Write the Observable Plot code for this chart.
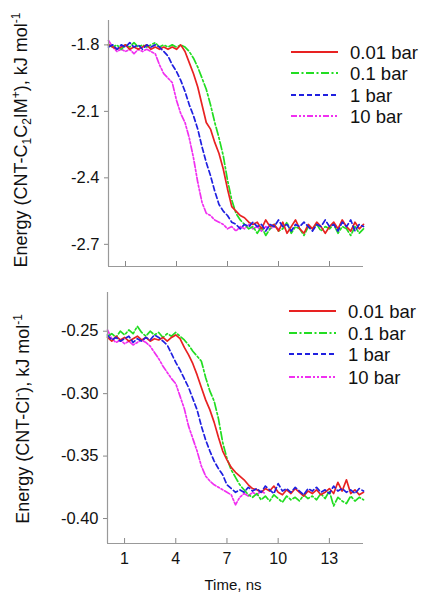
<!DOCTYPE html>
<html>
<head>
<meta charset="utf-8">
<script src="https://cdn.jsdelivr.net/npm/d3@7"></script>
<script src="https://cdn.jsdelivr.net/npm/@observablehq/plot@0.6"></script>
<style>
  html, body { margin: 0; padding: 0; background: #fff; }
  #wrap { position: relative; width: 421px; height: 593px; font-family: "Liberation Sans", Arial, sans-serif; }
  #top, #bot { position: absolute; left: 0; }
  #top { top: 0; }
  #bot { top: 290px; }
  #overlay { position: absolute; left: 0; top: 0; pointer-events: none; }
</style>
</head>
<body>
<div id="wrap">
  <div id="top"></div>
  <div id="bot"></div>
  <svg id="overlay" width="421" height="593"></svg>
</div>
<script>
// ---------- data ----------
const times = [0,0.25,0.5,0.75,1,1.25,1.5,1.75,2,2.25,2.5,2.75,3,3.25,3.5,3.75,4,4.25,4.5,4.75,5,5.25,5.5,5.75,6,6.25,6.5,6.75,7,7.25,7.5,7.75,8,8.25,8.5,8.75,9,9.25,9.5,9.75,10,10.25,10.5,10.75,11,11.25,11.5,11.75,12,12.25,12.5,12.75,13,13.25,13.5,13.75,14,14.25,14.5,14.75,15];

const seriesNames = ["0.01 bar", "0.1 bar", "1 bar", "10 bar"];

// Top panel: Energy (CNT-C1C2IM+), kJ/mol
const topRed = [-1.80,-1.81,-1.82,-1.81,-1.80,-1.82,-1.81,-1.82,-1.81,-1.80,-1.82,-1.81,-1.82,-1.81,-1.82,-1.81,-1.82,-1.80,-1.83,-1.88,-1.93,-1.99,-2.07,-2.15,-2.18,-2.24,-2.29,-2.36,-2.45,-2.53,-2.55,-2.57,-2.58,-2.60,-2.61,-2.60,-2.63,-2.59,-2.62,-2.61,-2.64,-2.60,-2.65,-2.62,-2.59,-2.63,-2.65,-2.61,-2.63,-2.60,-2.62,-2.65,-2.62,-2.60,-2.63,-2.59,-2.62,-2.64,-2.60,-2.63,-2.61];
const topGreen = [-1.80,-1.81,-1.80,-1.82,-1.80,-1.81,-1.79,-1.81,-1.80,-1.81,-1.80,-1.79,-1.81,-1.80,-1.81,-1.80,-1.81,-1.80,-1.81,-1.83,-1.86,-1.90,-1.95,-2.00,-2.07,-2.15,-2.22,-2.30,-2.41,-2.50,-2.56,-2.59,-2.61,-2.63,-2.62,-2.65,-2.62,-2.66,-2.63,-2.61,-2.64,-2.63,-2.60,-2.65,-2.62,-2.63,-2.66,-2.62,-2.63,-2.61,-2.64,-2.62,-2.63,-2.61,-2.65,-2.62,-2.63,-2.66,-2.62,-2.65,-2.63];
const topBlue = [-1.81,-1.80,-1.82,-1.80,-1.81,-1.79,-1.81,-1.80,-1.82,-1.80,-1.81,-1.80,-1.81,-1.83,-1.85,-1.89,-1.92,-1.96,-2.01,-2.07,-2.12,-2.18,-2.26,-2.33,-2.39,-2.46,-2.52,-2.55,-2.57,-2.60,-2.61,-2.63,-2.61,-2.62,-2.60,-2.62,-2.61,-2.64,-2.61,-2.62,-2.59,-2.62,-2.61,-2.64,-2.61,-2.62,-2.60,-2.62,-2.64,-2.61,-2.62,-2.59,-2.62,-2.61,-2.64,-2.60,-2.62,-2.59,-2.64,-2.61,-2.62];
const topMagenta = [-1.78,-1.81,-1.83,-1.82,-1.83,-1.82,-1.84,-1.82,-1.83,-1.82,-1.83,-1.84,-1.89,-1.93,-1.95,-1.97,-2.05,-2.11,-2.15,-2.22,-2.31,-2.42,-2.51,-2.56,-2.57,-2.59,-2.60,-2.61,-2.63,-2.62,-2.64,-2.62,-2.63,-2.61,-2.63,-2.62,-2.64,-2.62,-2.63,-2.62,-2.63];

// Bottom panel: Energy (CNT-Cl-), kJ/mol
const botRed = [-0.255,-0.258,-0.254,-0.257,-0.255,-0.258,-0.256,-0.254,-0.257,-0.255,-0.258,-0.256,-0.257,-0.255,-0.258,-0.255,-0.253,-0.256,-0.263,-0.269,-0.276,-0.285,-0.295,-0.305,-0.313,-0.323,-0.335,-0.346,-0.353,-0.359,-0.363,-0.366,-0.369,-0.373,-0.376,-0.377,-0.379,-0.376,-0.378,-0.374,-0.379,-0.381,-0.377,-0.380,-0.376,-0.379,-0.382,-0.378,-0.380,-0.377,-0.381,-0.379,-0.376,-0.380,-0.371,-0.378,-0.369,-0.380,-0.377,-0.381,-0.379];
const botGreen = [-0.254,-0.252,-0.255,-0.250,-0.253,-0.249,-0.252,-0.246,-0.251,-0.254,-0.250,-0.253,-0.251,-0.255,-0.252,-0.254,-0.251,-0.254,-0.257,-0.261,-0.266,-0.270,-0.274,-0.287,-0.298,-0.306,-0.320,-0.339,-0.352,-0.361,-0.367,-0.373,-0.377,-0.381,-0.383,-0.380,-0.385,-0.382,-0.386,-0.381,-0.384,-0.387,-0.382,-0.385,-0.383,-0.386,-0.381,-0.384,-0.382,-0.385,-0.380,-0.384,-0.378,-0.390,-0.383,-0.386,-0.388,-0.382,-0.386,-0.383,-0.385];
const botBlue = [-0.253,-0.257,-0.255,-0.258,-0.256,-0.254,-0.259,-0.256,-0.258,-0.255,-0.257,-0.253,-0.255,-0.258,-0.261,-0.268,-0.275,-0.281,-0.288,-0.295,-0.304,-0.313,-0.326,-0.337,-0.346,-0.354,-0.360,-0.365,-0.373,-0.376,-0.379,-0.377,-0.379,-0.375,-0.378,-0.376,-0.379,-0.374,-0.377,-0.380,-0.372,-0.378,-0.376,-0.379,-0.375,-0.378,-0.381,-0.376,-0.378,-0.375,-0.379,-0.377,-0.380,-0.374,-0.378,-0.376,-0.379,-0.377,-0.380,-0.376,-0.378];
const botMagenta = [-0.249,-0.256,-0.259,-0.257,-0.260,-0.258,-0.261,-0.259,-0.257,-0.259,-0.262,-0.267,-0.272,-0.278,-0.283,-0.288,-0.292,-0.302,-0.312,-0.326,-0.336,-0.346,-0.358,-0.366,-0.370,-0.373,-0.375,-0.377,-0.379,-0.381,-0.389,-0.383,-0.380,-0.382,-0.379,-0.381,-0.378,-0.380];

const xTicks = [1, 4, 7, 10, 13];
const topYTicks = [-1.8, -2.1, -2.4, -2.7];
const botYTicks = [-0.25, -0.30, -0.35, -0.40];

// ---------- styles ----------
const colors = ["#e82222", "#22dd22", "#2020e0", "#f030f0"];
const dashes = [null, "8,2.5,2,2.5", "5,3", "6,2,2,2,2,2"];

function rows(vals) { return vals.map((v, i) => ({t: times[i], v})); }

function panel({series, yDomain, yTicks, yFmt, height, marginTop, marginBottom, marginLeft, showXLabels}) {
  const order = [3, 1, 0, 2]; // draw magenta first
  const lines = order.map(k => Plot.lineY(rows(series[k]), {
    x: "t", y: "v", stroke: colors[k], strokeWidth: 1.7,
    strokeDasharray: dashes[k] || undefined
  }));
  const marks = [
    Plot.axisY(yTicks, {tickSize: 4, tickFormat: () => "", label: null, stroke: "#888"}),
    Plot.text(yTicks, {y: d => d, text: yFmt, frameAnchor: "left", textAnchor: "end", dx: -9,
      fontSize: 16.5, fill: "#111", fontFamily: '"Liberation Sans", Arial, sans-serif'}),
    Plot.axisX(xTicks, {tickSize: -5, tickFormat: () => "", label: null, stroke: "#888"}),
    ...lines,
    Plot.ruleX([0], {stroke: "#999", strokeWidth: 1.2}),
    Plot.ruleY([yDomain[0]], {stroke: "#999", strokeWidth: 1.2})
  ];
  if (showXLabels) marks.push(Plot.text(xTicks, {x: d => d, text: d => String(d), frameAnchor: "bottom", dy: 20,
    fontSize: 16, fill: "#111", fontFamily: '"Liberation Sans", Arial, sans-serif'}));
  return Plot.plot({
    width: 421, height, marginTop, marginBottom, marginLeft, marginRight: 58,
    style: {fontFamily: '"Liberation Sans", Arial, sans-serif', color: "#111", background: "#fff", overflow: "visible"},
    x: {domain: [0, 15]},
    y: {domain: yDomain},
    marks
  });
}

document.getElementById("top").append(panel({
  series: [topRed, topGreen, topBlue, topMagenta],
  yDomain: [-2.80, -1.69], yTicks: topYTicks, yFmt: d => d.toFixed(1),
  height: 290, marginTop: 20, marginBottom: 24, marginLeft: 108, showXLabels: false
}));
document.getElementById("bot").append(panel({
  series: [botRed, botGreen, botBlue, botMagenta],
  yDomain: [-0.42, -0.219], yTicks: botYTicks, yFmt: d => d.toFixed(2),
  height: 303, marginTop: 2, marginBottom: 50, marginLeft: 107, showXLabels: true
}));

// ---------- overlay: titles and legends ----------
const svg = d3.select("#overlay");
const FF = '"Liberation Sans", Arial, sans-serif';

function yTitle(x, y, parts) {
  const t = svg.append("text").attr("transform", `translate(${x},${y}) rotate(-90)`)
    .attr("text-anchor", "middle").attr("font-family", FF).attr("font-size", 18).attr("fill", "#111");
  parts.forEach(([s, kind]) => {
    const ts = t.append("tspan").text(s);
    if (kind === "sub") ts.attr("font-size", 12).attr("dy", 4);
    if (kind === "sup") ts.attr("font-size", 12).attr("dy", -7);
    if (kind === "after-sub") ts.attr("dy", -4);
    if (kind === "after-sup") ts.attr("dy", 7);
  });
}
yTitle(27, 140, [["Energy (CNT-C"], ["1", "sub"], ["C", "after-sub"], ["2", "sub"], ["IM", "after-sub"], ["+", "sup"], ["), kJ mol", "after-sup"], ["-1", "sup"]]);
yTitle(29, 419, [["Energy (CNT-Cl"], ["-", "sup"], ["), kJ mol", "after-sup"], ["-1", "sup"]]);

svg.append("text").attr("x", 233).attr("y", 590).attr("text-anchor", "middle")
  .attr("font-family", FF).attr("font-size", 15).attr("fill", "#111").text("Time, ns");

function legend(x0, ys) {
  seriesNames.forEach((name, k) => {
    svg.append("line").attr("x1", x0).attr("x2", x0 + 47).attr("y1", ys[k]).attr("y2", ys[k])
      .attr("stroke", colors[k]).attr("stroke-width", 1.8)
      .attr("stroke-dasharray", dashes[k] || null);
    svg.append("text").attr("x", x0 + 59).attr("y", ys[k]).attr("dy", "0.36em")
      .attr("font-family", FF).attr("font-size", 18.5).attr("fill", "#111").text(name);
  });
}
legend(291, [52, 73, 95, 116]);
legend(289, [311, 333, 354, 377]);
</script>
</body>
</html>
